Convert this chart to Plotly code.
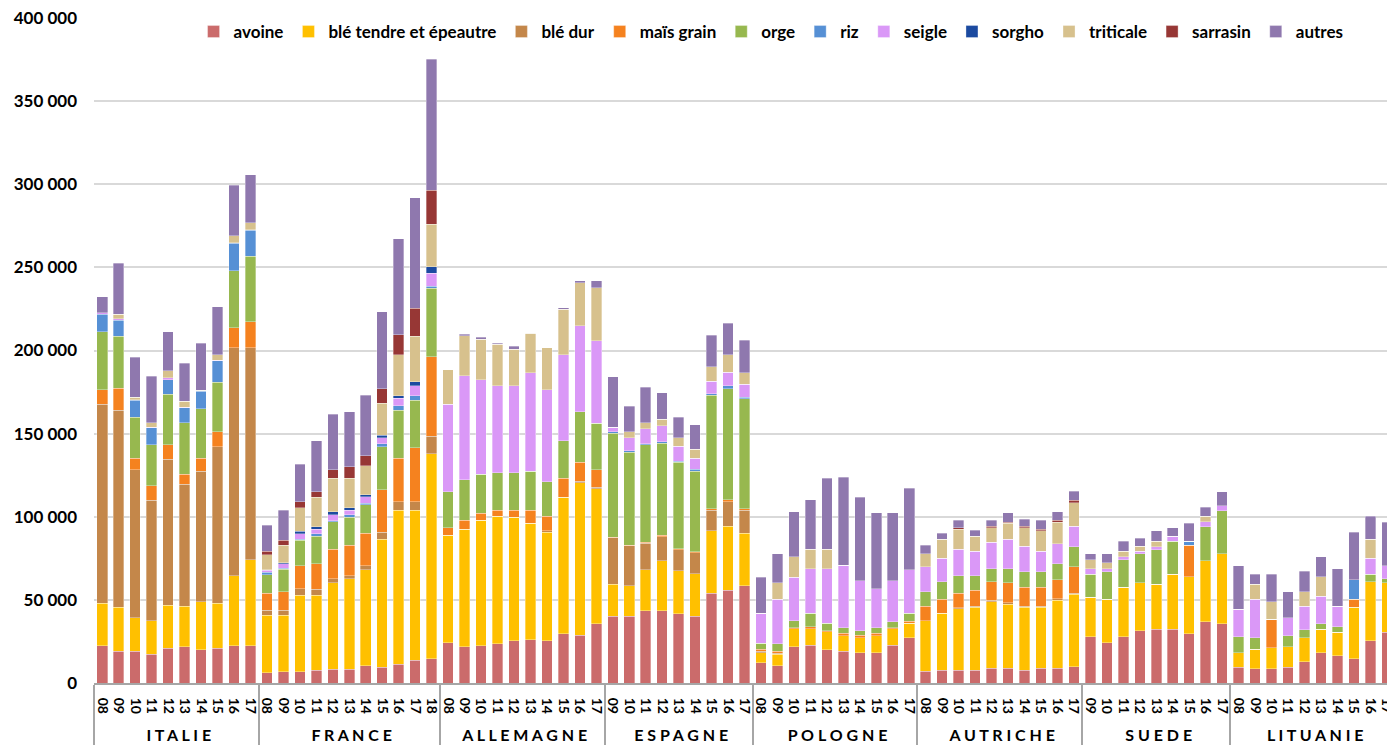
import plotly.graph_objects as go

# ---------------- data ----------------
NB = "\u00a0"
country_names = ["ITALIE", "FRANCE", "ALLEMAGNE", "ESPAGNE",
                 "POLOGNE", "AUTRICHE", "SUEDE", "LITUANIE"]
years = {
    "ITALIE": ["08", "09", "10", "11", "12", "13", "14", "15", "16", "17"],
    "FRANCE": ["08", "09", "10", "11", "12", "13", "14", "15", "16", "17", "18"],
    "ALLEMAGNE": ["08", "09", "10", "11", "12", "13", "14", "15", "16", "17"],
    "ESPAGNE": ["09", "10", "11", "12", "13", "14", "15", "16", "17"],
    "POLOGNE": ["08", "09", "10", "11", "12", "13", "14", "15", "16", "17"],
    "AUTRICHE": ["08", "09", "10", "11", "12", "13", "14", "15", "16", "17"],
    "SUEDE": ["09", "10", "11", "12", "13", "14", "15", "16", "17"],
    "LITUANIE": ["08", "09", "10", "11", "12", "13", "14", "15", "16", "17"],
}

# order: ITALIE, FRANCE, ALLEMAGNE, ESPAGNE, POLOGNE, AUTRICHE, SUEDE, LITUANIE
avoine = [
    22400, 19100, 19100, 17400, 20900, 21800, 20000, 20900, 22400, 22400,
    6200, 6800, 6800, 7800, 8400, 8400, 10400, 9600, 11200, 13800, 14600,
    24200, 21800, 22400, 23500, 25300, 26000, 25300, 29700, 28700, 35700,
    40100, 40100, 43500, 43500, 41700, 40100, 54100, 55900, 58500,
    12200, 10400, 21800, 22600, 20000, 19000, 18200, 18200, 22600, 27300,
    7000, 7800, 7800, 7800, 8800, 8800, 7800, 8800, 8800, 9800,
    27900, 24200, 27900, 31500, 32300, 32300, 29700, 36700, 35700,
    9600, 8600, 8600, 9600, 12800, 18200, 16400, 14600, 25400, 30500]
ble_tendre = [
    25500, 26400, 20200, 20100, 26000, 24500, 28900, 27000, 42100, 51800,
    34700, 34100, 46100, 45100, 51900, 54300, 57800, 77000, 92700, 90100, 123300,
    64800, 70800, 75500, 76900, 74400, 70100, 65500, 82000, 91800, 81200,
    19300, 18400, 24700, 29900, 25700, 25500, 37500, 38500, 31500,
    6000, 7000, 10700, 9900, 10700, 9300, 9100, 10100, 9900, 8600,
    30500, 34100, 36900, 37700, 40100, 38500, 37700, 36700, 41100, 43600,
    23600, 26300, 29700, 28700, 27100, 33100, 34100, 36700, 42100,
    8600, 11600, 12500, 12100, 14300, 14100, 14100, 30900, 35500, 29700]
ble_dur = [
    119700, 118500, 89000, 72400, 87700, 73200, 78600, 94200, 137200, 127500,
    3000, 3000, 3800, 3500, 2400, 1800, 2400, 4000, 5200, 5200, 10500,
    0, 0, 0, 0, 0, 0, 800, 0, 800, 800,
    28000, 24100, 15800, 14600, 12800, 12800, 12300, 14700, 13900,
    800, 600, 0, 0, 0, 0, 0, 0, 0, 0,
    0, 0, 600, 800, 1000, 1000, 800, 800, 800, 700,
    0, 0, 0, 0, 0, 0, 0, 0, 0,
    0, 0, 0, 0, 0, 0, 0, 0, 0, 0]
mais_grain = [
    8800, 13300, 7000, 8800, 8600, 6200, 7800, 9100, 12000, 15600,
    10100, 11000, 13900, 15200, 17700, 18300, 19400, 25700, 26100, 32300, 47900,
    4400, 5300, 4200, 3500, 4200, 7800, 8800, 11400, 11400, 10600,
    400, 300, 800, 1000, 600, 600, 900, 1000, 900,
    1200, 1000, 800, 1400, 800, 1600, 1400, 1600, 800, 1200,
    8600, 8600, 8700, 9500, 11000, 12000, 11300, 11300, 11300, 15700,
    0, 0, 0, 0, 0, 0, 19000, 0, 0,
    0, 0, 17200, 0, 0, 0, 0, 5000, 0, 0]
orge = [
    34900, 31400, 24500, 24500, 30600, 30700, 29700, 29700, 34300, 39400,
    11000, 13500, 15200, 16800, 16600, 16900, 17300, 25800, 29000, 28800, 41100,
    21700, 24400, 23600, 22600, 22600, 23400, 20700, 22600, 30500, 27900,
    62400, 55900, 58400, 55200, 51900, 48500, 68400, 66900, 66200,
    3600, 4500, 4200, 8000, 4400, 3200, 2800, 3200, 3400, 4800,
    8800, 10400, 10500, 8700, 7900, 8500, 9300, 9300, 9600, 12200,
    13900, 16400, 16400, 17400, 20800, 20000, 0, 20600, 25800,
    9700, 6900, 0, 6800, 5000, 3400, 3400, 0, 4500, 2500]
riz = [
    10500, 9600, 10400, 10400, 8600, 9200, 10400, 13000, 16500, 15600,
    1600, 600, 600, 1400, 600, 1400, 800, 1700, 2600, 2600, 1400,
    0, 0, 0, 0, 0, 0, 0, 0, 0, 0,
    1000, 900, 600, 900, 800, 1000, 800, 1800, 800,
    0, 0, 0, 0, 0, 0, 0, 0, 0, 0,
    0, 0, 0, 0, 0, 0, 0, 0, 0, 0,
    0, 0, 0, 0, 0, 0, 2600, 0, 0,
    0, 0, 0, 0, 0, 0, 0, 11500, 0, 0]
seigle = [
    900, 700, 300, 300, 1100, 300, 300, 300, 400, 400,
    1200, 2800, 3400, 2600, 3600, 2800, 3800, 3600, 4400, 6000, 7600,
    52500, 62500, 56700, 52300, 52300, 59300, 55300, 51600, 51700, 49700,
    2600, 7800, 9000, 9500, 8900, 6800, 7500, 8100, 8000,
    18100, 27000, 26100, 26900, 32900, 37700, 29900, 23600, 24700, 26100,
    14900, 14100, 15900, 14900, 15800, 17600, 15300, 12500, 12200, 12400,
    3400, 1900, 2000, 1800, 1800, 2800, 0, 3000, 2900,
    16600, 23400, 0, 10800, 14000, 16600, 12200, 0, 9600, 7900]
sorgho = [
    0, 0, 0, 0, 0, 0, 0, 0, 0, 0,
    400, 600, 1400, 1600, 1700, 1500, 1400, 1600, 1600, 2400, 4000,
    0, 0, 0, 0, 0, 0, 0, 0, 0, 0,
    0, 0, 0, 0, 0, 0, 0, 0, 0,
    0, 0, 0, 0, 0, 0, 0, 0, 0, 0,
    0, 0, 0, 0, 0, 0, 0, 0, 0, 0,
    0, 0, 0, 0, 0, 0, 0, 0, 0,
    0, 0, 0, 0, 0, 0, 0, 0, 0, 0]
triticale = [
    0, 2800, 1300, 2500, 4200, 3500, 500, 3100, 4000, 4000,
    8800, 10600, 14200, 17700, 20200, 17700, 17400, 19400, 24500, 27500, 25500,
    20900, 24100, 24500, 24900, 22100, 23700, 25300, 27500, 25900, 31700,
    0, 3700, 3600, 4200, 5100, 5300, 8800, 10400, 6800,
    0, 9700, 12400, 11600, 11600, 0, 0, 0, 0, 0,
    8000, 11400, 12200, 8800, 8800, 9700, 11200, 12200, 13000, 13900,
    5200, 3600, 3200, 2800, 3400, 0, 0, 3400, 0,
    0, 8900, 10600, 0, 8800, 11500, 0, 0, 11400, 0]
sarrasin = [
    0, 0, 0, 0, 0, 0, 0, 0, 0, 0,
    2400, 3000, 3700, 3200, 5200, 7000, 6000, 8600, 12200, 16700, 20600,
    0, 0, 0, 0, 0, 0, 0, 0, 0, 0,
    0, 0, 0, 0, 0, 0, 0, 0, 0,
    0, 0, 0, 0, 0, 0, 0, 0, 0, 0,
    0, 0, 800, 0, 800, 700, 800, 1000, 1100, 1600,
    0, 0, 0, 0, 0, 0, 0, 0, 0,
    0, 0, 0, 0, 0, 0, 0, 0, 0, 0]
autres = [
    9700, 30600, 24100, 28100, 23600, 22800, 28100, 29000, 30600, 28900,
    15600, 17900, 22600, 30800, 33300, 33100, 36300, 46400, 57600, 66600, 78800,
    0, 800, 1000, 800, 1800, 0, 0, 800, 1200, 4400,
    30500, 15400, 21600, 15800, 12300, 14800, 19000, 19200, 19700,
    21700, 17400, 27000, 29700, 42700, 53100, 50300, 45600, 40900, 49100,
    5200, 3600, 4500, 3600, 3700, 5500, 4400, 5300, 5100, 5400,
    3600, 5200, 6200, 5000, 6200, 5200, 10700, 5200, 8600,
    26100, 6000, 16500, 15600, 12300, 12000, 22700, 28600, 14000, 26200]

series_names = ["avoine", "blé tendre et épeautre", "blé dur", "maïs grain", "orge",
                "riz", "seigle", "sorgho", "triticale", "sarrasin", "autres"]
series_values = [avoine, ble_tendre, ble_dur, mais_grain, orge, riz, seigle,
                 sorgho, triticale, sarrasin, autres]
series_colors = ["#CB6B6B", "#FFC000", "#C4874A", "#F5821F", "#97B84F", "#5690D5",
                 "#DA98F7", "#1B4AA0", "#D7C18D", "#973735", "#8F78AE"]

y_ticks = [0, 50000, 100000, 150000, 200000, 250000, 300000, 350000, 400000]

# ---------------- figure ----------------
def country_label(name):
    # the source chart writes the country names with spaced-out letters
    return "<span style='font-size:16px'>" + " ".join(list(name)) + "</span>"

def year_label(y):
    # leading no-break spaces leave a gap between the axis and the rotated years
    return NB * 3 + y

lvl_country = [country_label(c) for c in country_names for _ in years[c]]
lvl_year = [year_label(y) for c in country_names for y in years[c]]

fig = go.Figure()
for name, vals, col in zip(series_names, series_values, series_colors):
    fig.add_trace(go.Bar(
        x=[lvl_country, lvl_year], y=vals, name=name,
        marker=dict(color=col, line=dict(color="rgba(255,255,255,0.55)", width=0.6)),
    ))

W, H = 1387, 747
ml, mt, mb = 94, 18, 64
fig.update_layout(
    width=W, height=H,
    margin=dict(l=ml, r=0, t=mt, b=mb, pad=0),
    barmode="stack", bargap=0.36,
    plot_bgcolor="white", paper_bgcolor="white",
    separators=", ",
    font=dict(family="Lato, Carlito, Calibri, sans-serif", color="black"),
    legend=dict(orientation="h", x=0.077, xanchor="left", y=1.006, yanchor="top",
                font=dict(size=17, weight="bold", color="black"),
                bgcolor="rgba(0,0,0,0)", itemwidth=30, traceorder="normal",
                tracegroupgap=0),
    showlegend=True,
)
fig.update_yaxes(range=[0, 400000], tickvals=y_ticks, tickformat=",.0f",
                 showgrid=True, gridcolor="#d9d9d9", gridwidth=1.6,
                 zeroline=False, showline=False, ticks="",
                 ticklabelstandoff=16,
                 tickfont=dict(size=17, weight="bold", color="black"))
fig.update_xaxes(type="multicategory", range=[-0.5, 78.01],
                 tickmode="linear", tick0=0, dtick=1,
                 tickangle=90, showline=True, linecolor="#a6a6a6", linewidth=1.5,
                 showdividers=True, dividercolor="#a6a6a6", dividerwidth=1.5,
                 ticks="", showgrid=False,
                 tickfont=dict(size=14, weight="bold", color="black"))

fig.write_html("out.html", config={"displayModeBar": False},
               post_script="document.body.style.margin='0';document.body.style.overflow='hidden';")
